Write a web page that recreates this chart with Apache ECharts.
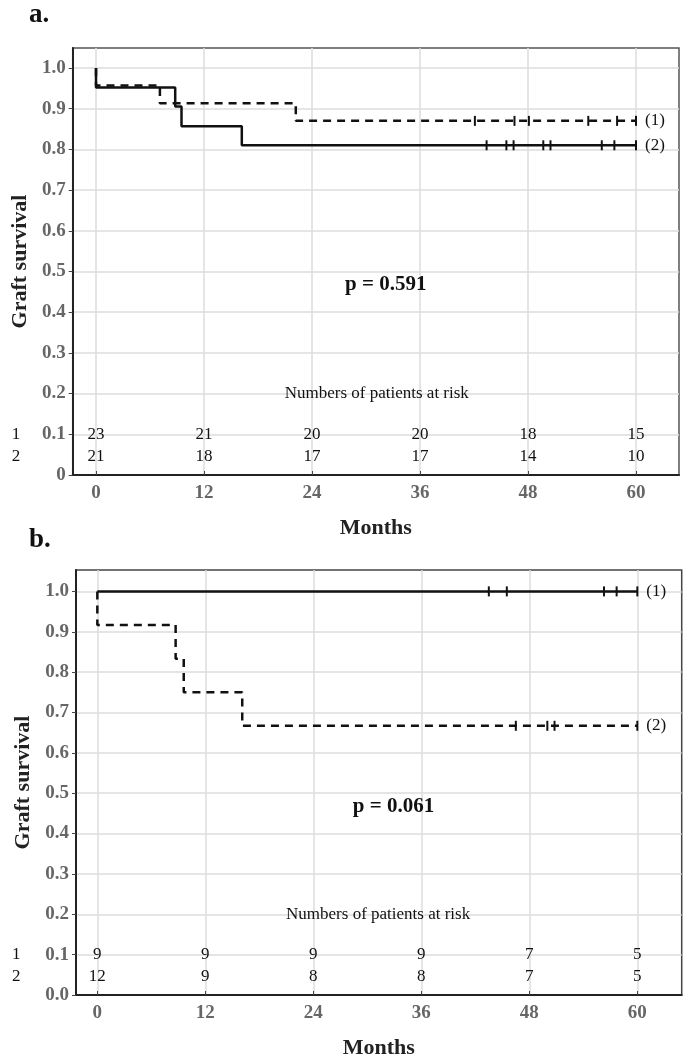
<!DOCTYPE html>
<html>
<head>
<meta charset="utf-8">
<script src="https://cdn.jsdelivr.net/npm/echarts@6/dist/echarts.min.js"></script>
<style>
html,body{margin:0;padding:0;background:#fff;}
#chart{width:685px;height:1060px;}
</style>
</head>
<body>
<div id="chart"></div>
<script>
// ---------- data ----------
var monthTicks = [0, 12, 24, 36, 48, 60];
var yTicks = [0, 0.1, 0.2, 0.3, 0.4, 0.5, 0.6, 0.7, 0.8, 0.9, 1.0];
var yTickLabelsA = ['0', '0.1', '0.2', '0.3', '0.4', '0.5', '0.6', '0.7', '0.8', '0.9', '1.0'];
var yTickLabelsB = ['0.0', '0.1', '0.2', '0.3', '0.4', '0.5', '0.6', '0.7', '0.8', '0.9', '1.0'];

// panel a: group (1) dashed, group (2) solid
var a1Times = [0, 0, 7.1, 22.2, 60];
var a1Surv  = [1.0, 0.957, 0.913, 0.870, 0.870];
var a1CensorTimes = [42.1, 46.5, 48.1, 54.7, 57.9, 60];
var a1CensorSurv = 0.870;
var a2Times = [0, 0, 8.8, 9.5, 16.2, 60];
var a2Surv  = [1.0, 0.952, 0.905, 0.857, 0.810, 0.810];
var a2CensorTimes = [43.4, 45.6, 46.4, 49.7, 50.5, 56.2, 57.6, 60];
var a2CensorSurv = 0.810;
var aRisk1 = [23, 21, 20, 20, 18, 15];
var aRisk2 = [21, 18, 17, 17, 14, 10];
var aPText = 'p = 0.591';

// panel b: group (1) solid, group (2) dashed
var b1Times = [0, 60];
var b1Surv  = [1.0, 1.0];
var b1CensorTimes = [43.5, 45.5, 56.3, 57.7, 60];
var b1CensorSurv = 1.0;
var b2Times = [0, 0, 8.7, 9.6, 16.1, 60];
var b2Surv  = [1.0, 0.917, 0.833, 0.750, 0.667, 0.667];
var b2CensorTimes = [46.5, 50.0, 50.8, 60];
var b2CensorSurv = 0.667;
var bRisk1 = [9, 9, 9, 9, 7, 5];
var bRisk2 = [12, 9, 8, 8, 7, 5];
var bPText = 'p = 0.061';

var riskTitle = 'Numbers of patients at risk';
var rowNames = ['1', '2'];

// ---------- helpers ----------
var FONT = "'Liberation Serif','Times New Roman',serif";
function zip(xs, ys) { return xs.map(function (x, i) { return [x, ys[i]]; }); }
function censor(ts, s) { return ts.map(function (t) { return [t, s]; }); }

function kmLine(name, times, surv, dashed, gi, endText) {
  return {
    type: 'line', name: name, xAxisIndex: gi, yAxisIndex: gi,
    data: zip(times, surv), step: 'end', symbol: 'none', silent: true,
    lineStyle: { color: '#111', width: 2.5, type: dashed ? [8, 6] : 'solid' },
    endLabel: { show: true, formatter: endText, distance: 9, color: '#111', fontFamily: FONT, fontSize: 17 },
    z: 5
  };
}
function censorSeries(ts, s, gi) {
  return {
    type: 'scatter', xAxisIndex: gi, yAxisIndex: gi, data: censor(ts, s),
    symbol: 'rect', symbolSize: [2, 10], itemStyle: { color: '#111', opacity: 1 }, silent: true, z: 6
  };
}
function textSeries(items, gi, style) {
  return {
    type: 'scatter', xAxisIndex: gi, yAxisIndex: gi, symbolSize: 0, clip: false, silent: true,
    itemStyle: { opacity: 1, color: '#111' },
    data: items.map(function (it) { return { value: it[0], name: it[1] }; }),
    label: Object.assign({ show: true, position: 'inside', formatter: '{b}', color: '#111', opacity: 1,
      fontFamily: FONT, fontSize: 17 }, style || {}),
    z: 7
  };
}
function riskItems(r1, r2, y1, y2) {
  var out = [];
  monthTicks.forEach(function (m, i) { out.push([[m, y1], String(r1[i])]); out.push([[m, y2], String(r2[i])]); });
  return out;
}

function xAxisDef(gi, min, max) {
  return {
    type: 'value', gridIndex: gi, min: min, max: max,
    name: 'Months', nameLocation: 'middle', nameGap: 42,
    nameTextStyle: { fontFamily: FONT, fontSize: 22, fontWeight: 'bold', color: '#222' },
    axisLine: { show: true, onZero: false, lineStyle: { color: '#222', width: 2 } },
    axisTick: { show: true, inside: true, length: 4, customValues: monthTicks, lineStyle: { color: '#444' } },
    axisLabel: { customValues: monthTicks, margin: 9, fontFamily: FONT, fontSize: 19, fontWeight: 'bold', color: '#666' },
    splitLine: { show: true, lineStyle: { color: '#dcdcdc', width: 1.5 } }
  };
}
function yAxisDef(gi, max, labels) {
  return {
    type: 'value', gridIndex: gi, min: 0, max: max,
    name: 'Graft survival', nameLocation: 'middle', nameGap: 40, nameRotate: 90,
    nameTextStyle: { fontFamily: FONT, fontSize: 22, fontWeight: 'bold', color: '#222' },
    axisLine: { show: true, onZero: false, lineStyle: { color: '#222', width: 2 } },
    axisTick: { show: true, inside: false, length: 4, customValues: yTicks, lineStyle: { color: '#444' } },
    axisLabel: { customValues: yTicks, margin: 7, fontFamily: FONT, fontSize: 19, fontWeight: 'bold', color: '#666',
      formatter: function (v) { var i = yTicks.findIndex(function (t) { return Math.abs(t - v) < 1e-6; }); return i >= 0 ? labels[i] : ''; } },
    splitLine: { show: true, lineStyle: { color: '#dcdcdc', width: 1.5 } }
  };
}

var chart = echarts.init(document.getElementById('chart'), null, { renderer: 'canvas' });
chart.setOption({
  animation: false,
  backgroundColor: '#fff',
  title: [
    { text: 'a.', left: 24, top: -3, textStyle: { fontFamily: FONT, fontSize: 27, fontWeight: 'bold', color: '#111' } },
    { text: 'b.', left: 24, top: 522, textStyle: { fontFamily: FONT, fontSize: 27, fontWeight: 'bold', color: '#111' } }
  ],
  grid: [
    { left: 72.7, top: 48, width: 606.3, height: 427, show: true, borderColor: '#555', borderWidth: 1.5, containLabel: false },
    { left: 76, top: 570, width: 605.7, height: 426, show: true, borderColor: '#444', borderWidth: 1.5, containLabel: false }
  ],
  xAxis: [xAxisDef(0, -2.59, 64.78), xAxisDef(1, -2.37, 64.93)],
  yAxis: [yAxisDef(0, 1.049, yTickLabelsA), yAxisDef(1, 1.053, yTickLabelsB)],
  series: [
    kmLine('a1', a1Times, a1Surv, true, 0, '(1)'),
    kmLine('a2', a2Times, a2Surv, false, 0, '(2)'),
    censorSeries(a1CensorTimes, a1CensorSurv, 0),
    censorSeries(a2CensorTimes, a2CensorSurv, 0),
    textSeries(riskItems(aRisk1, aRisk2, 0.1, 0.045), 0),
    textSeries([[[-8.9, 0.1], rowNames[0]], [[-8.9, 0.045], rowNames[1]]], 0),
    textSeries([[[31.2, 0.2], riskTitle]], 0),
    textSeries([[[32.2, 0.467], aPText]], 0, { fontSize: 21, fontWeight: 'bold' }),

    kmLine('b1', b1Times, b1Surv, false, 1, '(1)'),
    kmLine('b2', b2Times, b2Surv, true, 1, '(2)'),
    censorSeries(b1CensorTimes, b1CensorSurv, 1),
    censorSeries(b2CensorTimes, b2CensorSurv, 1),
    textSeries(riskItems(bRisk1, bRisk2, 0.1, 0.045), 1),
    textSeries([[[-9.0, 0.1], rowNames[0]], [[-9.0, 0.045], rowNames[1]]], 1),
    textSeries([[[31.2, 0.2], riskTitle]], 1),
    textSeries([[[32.9, 0.467], bPText]], 1, { fontSize: 21, fontWeight: 'bold' })
  ]
});
</script>
</body>
</html>
